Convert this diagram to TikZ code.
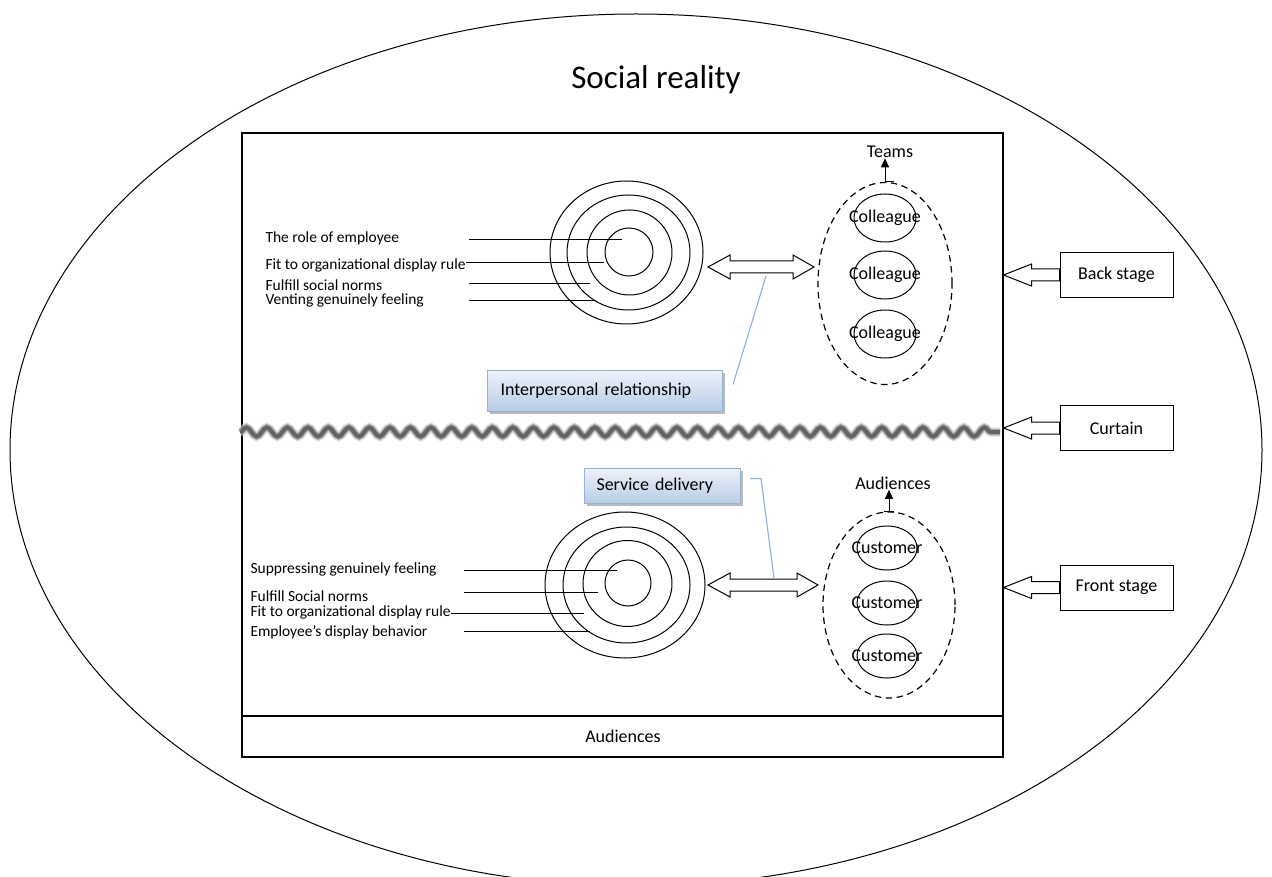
\documentclass[tikz,border=0pt]{standalone}
\usepackage{fontspec}
\setmainfont{Carlito}
\usetikzlibrary{arrows.meta,calc,shapes.geometric,decorations.pathmorphing,shadows}

\definecolor{calloutTop}{RGB}{236,242,250}
\definecolor{calloutBot}{RGB}{184,204,230}
\definecolor{calloutEdge}{RGB}{149,179,215}
\definecolor{leader}{RGB}{141,176,220}
\definecolor{curtainInk}{RGB}{100,100,100}

% horizontal block arrow with two heads: #1 left tip, #2 right tip
\newcommand\doubleblock[2]{%
  \draw[blockarrow] (#1) -- ($(#1)+(22,-12)$) -- ($(#1)+(22,-6)$)
    -- ($(#2)+(-21,-6)$) -- ($(#2)+(-21,-12)$) -- (#2)
    -- ($(#2)+(-21,12)$) -- ($(#2)+(-21,6)$)
    -- ($(#1)+(22,6)$) -- ($(#1)+(22,12)$) -- cycle;}
% block arrow from a side box (#2) pointing left to the tip #1
\newcommand\leftblock[2]{%
  \draw[blockarrow] (#1) -- ++(28,-11) -- ++(0,5) -- ($(#2.west)+(0,-6)$)
    -- ($(#2.west)+(0,6)$) -- ($(#1)+(28,6)$) -- ++(0,5) -- cycle;}

\begin{document}
\begin{tikzpicture}[x=1pt,y=-1pt,line width=1pt,
  lbl/.style={font=\fontsize{15.5}{18}\selectfont,anchor=west,inner sep=0},
  txt/.style={font=\fontsize{18}{21}\selectfont,inner sep=0},
  ring/.style={draw,ellipse,inner sep=0},
  member/.style={draw,ellipse,inner sep=0,label={[txt]center:#1}},
  group/.style={draw,ellipse,inner sep=0,line width=1.2pt,dash pattern=on 6.5pt off 4.5pt},
  callout/.style={draw=calloutEdge,line width=1pt,top color=calloutTop,
    bottom color=calloutBot,
    drop shadow={shadow xshift=2pt,shadow yshift=-2.5pt,opacity=0.45,fill=black!60},
    font=\fontsize{18}{21}\selectfont,align=left,inner ysep=0,anchor=north west},
  sidebox/.style={draw,minimum width=113,minimum height=45,inner sep=0,
    font=\fontsize{18}{21}\selectfont},
  blockarrow/.style={draw,fill=white,line join=miter},
  leaderline/.style={draw=leader,line width=1.1pt},
  up/.style={-{Triangle[width=8pt,length=9pt]}},
  wave/.style={decorate,decoration={snake,amplitude=4.5pt,segment length=20.5pt}},
]
\useasboundingbox (0,0) rectangle (1272,877);
\fill[white] (0,0) rectangle (1272,877);

% the surrounding social reality
\draw (636,450) ellipse [x radius=626pt,y radius=436pt];
\node[font=\fontsize{33}{40}\selectfont,inner sep=0] (title) at (656,80) {Social reality};

% the stage and the audience strip
\node[draw,line width=1.1pt,minimum width=761,minimum height=624,inner sep=0] (frame) at (622.5,445) {};
\coordinate (divL) at (242,716);
\coordinate (divR) at (1003,716);
\draw[line width=2.4pt] (divL) -- (divR);
\node[txt] (aud) at (623,736) {Audiences};

% curtain between back stage and front stage
\coordinate (cwL) at (240,432);
\coordinate (cwR) at (1000,432);
\draw[wave,draw=curtainInk!35,line width=9pt,opacity=0.6] (cwL) -- (cwR);
\draw[wave,draw=curtainInk!70,line width=6.5pt,opacity=0.7] (cwL) -- (cwR);
\draw[wave,draw=curtainInk,line width=4pt] (cwL) -- (cwR);

% ---- back stage: the employee among colleagues
\node[ring,minimum width=153,minimum height=143] (t4) at (626.5,252.5) {};
\node[ring,minimum width=123,minimum height=115] (t3) at (628.5,252.5) {};
\node[ring,minimum width=85,minimum height=85] (t2) at (629.5,252.5) {};
\node[ring,minimum width=48,minimum height=48] (t1) at (629,252) {};

\node[lbl] (tl1) at (265,238) {The role of employee};
\node[lbl] (tl2) at (265,265) {Fit to organizational display rule};
\node[lbl] (tl3) at (265,285) {Fulfill social norms};
\node[lbl] (tl4) at (265,300) {Venting genuinely feeling};
\draw (469,240) -- (622,240);
\draw (tl2.east |- 0,263) -- (604,263);
\draw (469,284) -- (590,284);
\draw (469,301) -- (596,301);

\node[group,minimum width=134,minimum height=202] (gTop) at (885,283.5) {};
\node[member=Colleague,minimum width=62,minimum height=48] (c1) at (885,218) {};
\node[member=Colleague,minimum width=62,minimum height=48] (c2) at (885,275) {};
\node[member=Colleague,minimum width=62,minimum height=48] (c3) at (885,334) {};
\node[txt] (teams) at (890,152) {Teams};
\draw[up] (gTop.north) -- (gTop.north |- teams.south);
\draw[line width=0.8pt] (gTop.north) -- ++(9,0);

\coordinate (daTL) at (708,267);
\coordinate (daTR) at (814,267);
\doubleblock{daTL}{daTR}

\node[callout,minimum width=235,minimum height=41,text width=209,inner xsep=13] (ir)
  at (487,370) {Interpersonal relationship};
\draw[leaderline] (766,276) -- ($(ir.east)+(10,-6.5)$);

% ---- front stage: the employee facing customers
\node[ring,minimum width=160,minimum height=146] (b4) at (625,585) {};
\node[ring,minimum width=127,minimum height=116] (b3) at (626.5,585) {};
\node[ring,minimum width=89,minimum height=86] (b2) at (627.5,583.5) {};
\node[ring,minimum width=46,minimum height=46] (b1) at (628,583) {};

\node[lbl] (bl1) at (250,569) {Suppressing genuinely feeling};
\node[lbl] (bl2) at (250,596) {Fulfill Social norms};
\node[lbl] (bl3) at (250,612) {Fit to organizational display rule};
\node[lbl] (bl4) at (250,632) {Employee’s display behavior};
\draw (464,570) -- (617,570);
\draw (464,592) -- (598,592);
\draw (bl3.east |- 0,613) -- (584,613);
\draw (464,631) -- (590,631);

\node[group,minimum width=132,minimum height=186] (gBot) at (889,605) {};
\node[member=Customer,minimum width=60,minimum height=44] (k1) at (887,548) {};
\node[member=Customer,minimum width=60,minimum height=44] (k2) at (887,603) {};
\node[member=Customer,minimum width=60,minimum height=44] (k3) at (887,656) {};
\node[txt] (audT) at (893,483) {Audiences};
\draw[up] (gBot.north) -- (gBot.north |- audT.south);
\draw[line width=0.8pt] ($(gBot.north)+(-5,0)$) -- ++(10,0);

\coordinate (daBL) at (708,585);
\coordinate (daBR) at (818,585);
\doubleblock{daBL}{daBR}

\node[callout,minimum width=156,minimum height=35,text width=132,inner xsep=12] (sd)
  at (584,468) {Service delivery};
\draw[leaderline] ($(sd.east)+(9,-7.5)$) -- ++(11,0) -- (774,578);

% ---- regions named at the right
\node[sidebox] (bs) at (1116.5,275) {Back stage};
\node[sidebox] (ct) at (1116.5,428) {Curtain};
\node[sidebox] (fs) at (1116.5,587.5) {Front stage};
\coordinate (bsTip) at (frame.east |- bs.west);
\coordinate (ctTip) at (frame.east |- ct.west);
\coordinate (fsTip) at (frame.east |- fs.west);
\leftblock{bsTip}{bs}
\leftblock{ctTip}{ct}
\leftblock{fsTip}{fs}
\end{tikzpicture}
\end{document}
